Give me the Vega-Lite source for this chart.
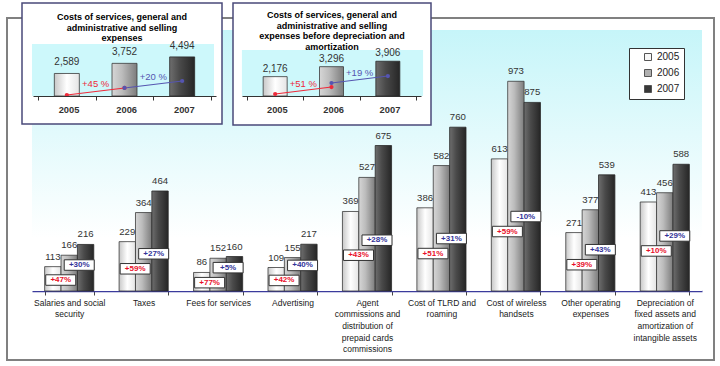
{
  "$schema": "https://vega.github.io/schema/vega-lite/v6.json",
  "width": 707,
  "height": 342,
  "autosize": "none",
  "padding": {"left": 7, "top": 18, "right": 6, "bottom": 6},
  "background": "#ffffff",
  "config": {
    "view": {"stroke": "#808080", "strokeWidth": 2},
    "font": "Liberation Sans",
    "text": {"font": "Liberation Sans"},
    "axis": {"labelFont": "Liberation Sans"},
    "legend": {"labelFont": "Liberation Sans"}
  },
  "resolve": {"scale": {"x": "independent", "y": "independent", "color": "independent"}},
  "layer": [
    {
      "data": {"values": [{"area": "plot"}]},
      "mark": {"type": "rect", "fill": {"gradient": "linear", "x1": 0, "y1": 0, "x2": 0, "y2": 1, "stops": [{"offset": 0, "color": "#c6f5f9"}, {"offset": 0.8, "color": "#ffffff"}]}},
      "encoding": {
        "x": {"datum": 0, "type": "quantitative", "scale": {"domain": [0, 1], "range": [25, 695], "nice": false, "zero": false}, "axis": null},
        "x2": {"datum": 1},
        "y": {"datum": 0, "type": "quantitative", "scale": {"domain": [0, 1], "range": [273, 12], "nice": false, "zero": false}, "axis": null},
        "y2": {"datum": 1}
      }
    },
    {
      "data": {"values": [
        {"cat": "Salaries and social|security", "2005": 113, "2006": 166, "2007": 216, "g1": "+47%", "g2": "+30%"},
        {"cat": "Taxes", "2005": 229, "2006": 364, "2007": 464, "g1": "+59%", "g2": "+27%"},
        {"cat": "Fees for services", "2005": 86, "2006": 152, "2007": 160, "g1": "+77%", "g2": "+5%"},
        {"cat": "Advertising", "2005": 109, "2006": 155, "2007": 217, "g1": "+42%", "g2": "+40%"},
        {"cat": "Agent|commissions and|distribution of|prepaid cards|commissions", "2005": 369, "2006": 527, "2007": 675, "g1": "+43%", "g2": "+28%"},
        {"cat": "Cost of TLRD and|roaming", "2005": 386, "2006": 582, "2007": 760, "g1": "+51%", "g2": "+31%"},
        {"cat": "Cost of wireless|handsets", "2005": 613, "2006": 973, "2007": 875, "g1": "+59%", "g2": "-10%"},
        {"cat": "Other operating|expenses", "2005": 271, "2006": 377, "2007": 539, "g1": "+39%", "g2": "+43%"},
        {"cat": "Depreciation of|fixed assets and|amortization of|intangible assets", "2005": 413, "2006": 456, "2007": 588, "g1": "+10%", "g2": "+29%"}
      ]},
      "transform": [{"fold": ["2005", "2006", "2007"], "as": ["year", "value"]}],
      "resolve": {"scale": {"y": "independent"}},
      "encoding": {
        "x": {"field": "cat", "type": "nominal", "sort": null,
          "scale": {"range": [25, 695], "paddingInner": 0.34, "paddingOuter": 0.17},
          "axis": {"orient": "bottom", "title": null, "labelAngle": 0, "labelExpr": "split(datum.label, '|')", "labelFontSize": 8.5, "labelColor": "#1a1a1a", "labelLineHeight": 11.7, "labelPadding": 3, "labelBaseline": "top", "labelOverlap": false, "labelLimit": 0, "domainColor": "#3b3b9c", "domainWidth": 1.5, "tickColor": "#444444", "tickSize": 4, "tickBand": "extent", "offset": -69, "grid": false}}
      },
      "layer": [
        {
          "transform": [{"filter": "datum.year == '2005'"}],
          "mark": {"type": "bar", "stroke": "#3a3a3a", "strokeWidth": 0.8, "fill": {"gradient": "linear", "x1": 0, "y1": 0, "x2": 1, "y2": 0, "stops": [{"offset": 0, "color": "#c8c8c8"}, {"offset": 0.5, "color": "#ffffff"}, {"offset": 1, "color": "#e4e4e4"}]}},
          "encoding": {
            "xOffset": {"field": "year", "type": "nominal", "scale": {"domain": ["2005", "2006", "2007"], "paddingInner": 0, "paddingOuter": 0}},
            "y": {"field": "value", "type": "quantitative", "scale": {"domain": [0, 1211], "range": [273, 12], "nice": false}, "axis": null}
          }
        },
        {
          "transform": [{"filter": "datum.year == '2006'"}],
          "mark": {"type": "bar", "stroke": "#3a3a3a", "strokeWidth": 0.8, "fill": {"gradient": "linear", "x1": 0, "y1": 0, "x2": 1, "y2": 0, "stops": [{"offset": 0, "color": "#d6d6d6"}, {"offset": 0.4, "color": "#bcbcbc"}, {"offset": 1, "color": "#7c7c7c"}]}},
          "encoding": {
            "xOffset": {"field": "year", "type": "nominal", "scale": {"domain": ["2005", "2006", "2007"], "paddingInner": 0, "paddingOuter": 0}},
            "y": {"field": "value", "type": "quantitative", "scale": {"domain": [0, 1211], "range": [273, 12], "nice": false}, "axis": null}
          }
        },
        {
          "transform": [{"filter": "datum.year == '2007'"}],
          "mark": {"type": "bar", "stroke": "#2a2a2a", "strokeWidth": 0.8, "fill": {"gradient": "linear", "x1": 0, "y1": 0, "x2": 1, "y2": 0, "stops": [{"offset": 0, "color": "#6e6e6e"}, {"offset": 0.4, "color": "#4a4a4a"}, {"offset": 1, "color": "#262626"}]}},
          "encoding": {
            "xOffset": {"field": "year", "type": "nominal", "scale": {"domain": ["2005", "2006", "2007"], "paddingInner": 0, "paddingOuter": 0}},
            "y": {"field": "value", "type": "quantitative", "scale": {"domain": [0, 1211], "range": [273, 12], "nice": false}, "axis": null}
          }
        },
        {
          "mark": {"type": "text", "baseline": "middle", "dy": -10, "fontSize": 9.6, "fill": "#333333"},
          "encoding": {
            "xOffset": {"field": "year", "type": "nominal", "scale": {"domain": ["2005", "2006", "2007"], "paddingInner": 0, "paddingOuter": 0}},
            "y": {"field": "value", "type": "quantitative", "scale": {"domain": [0, 1211], "range": [273, 12], "nice": false}, "axis": null},
            "text": {"field": "value", "type": "quantitative"}
          }
        },
        {
          "transform": [{"filter": "datum.year == '2005'"}],
          "mark": {"type": "point", "shape": "M-1,-0.35L1,-0.35L1,0.35L-1,0.35Z", "size": 900, "filled": true, "fill": "#ffffff", "stroke": "#333333", "strokeWidth": 1, "opacity": 1, "xOffset": -8.5},
          "encoding": {"y": {"field": "value", "type": "quantitative", "scale": {"domain": [0, 2691], "range": [273, 12], "nice": false}, "axis": null}}
        },
        {
          "transform": [{"filter": "datum.year == '2005'"}],
          "mark": {"type": "text", "fontSize": 8, "fontWeight": "bold", "fill": "#e8102a", "baseline": "middle", "xOffset": -8.5},
          "encoding": {"y": {"field": "value", "type": "quantitative", "scale": {"domain": [0, 2691], "range": [273, 12], "nice": false}, "axis": null}, "text": {"field": "g1", "type": "nominal"}}
        },
        {
          "transform": [{"filter": "datum.year == '2005'"}],
          "mark": {"type": "point", "shape": "M-1,-0.35L1,-0.35L1,0.35L-1,0.35Z", "size": 900, "filled": true, "fill": "#ffffff", "stroke": "#333333", "strokeWidth": 1, "opacity": 1, "xOffset": 10, "yOffset": -15},
          "encoding": {"y": {"field": "value", "type": "quantitative", "scale": {"domain": [0, 2691], "range": [273, 12], "nice": false}, "axis": null}}
        },
        {
          "transform": [{"filter": "datum.year == '2005'"}],
          "mark": {"type": "text", "fontSize": 8, "fontWeight": "bold", "fill": "#333399", "baseline": "middle", "xOffset": 10, "yOffset": -15},
          "encoding": {"y": {"field": "value", "type": "quantitative", "scale": {"domain": [0, 2691], "range": [273, 12], "nice": false}, "axis": null}, "text": {"field": "g2", "type": "nominal"}}
        }
      ]
    },
    {
      "data": {"values": [{"panel": "inset1"}]},
      "layer": [
        {
          "mark": {"type": "rect", "fill": "#ffffff", "stroke": "#4a4a7a", "strokeWidth": 1.5},
          "encoding": {
            "x": {"datum": 0, "type": "quantitative", "scale": {"domain": [0, 1], "range": [15, 215], "nice": false, "zero": false}, "axis": null},
            "x2": {"datum": 1},
            "y": {"datum": 0, "type": "quantitative", "scale": {"domain": [0, 1], "range": [106, -15], "nice": false, "zero": false}, "axis": null},
            "y2": {"datum": 1}
          }
        },
        {
          "mark": {"type": "rect", "fill": "#cdf8fb"},
          "encoding": {
            "x": {"datum": 0.05, "type": "quantitative", "scale": {"domain": [0, 1], "range": [15, 215], "nice": false, "zero": false}, "axis": null},
            "x2": {"datum": 0.96},
            "y": {"datum": 0.2314, "type": "quantitative", "scale": {"domain": [0, 1], "range": [106, -15], "nice": false, "zero": false}, "axis": null},
            "y2": {"datum": 0.661}
          }
        },
        {
          "mark": {"type": "text", "text": ["Costs of services, general and", "administrative and selling", "expenses"], "fontSize": 9, "fontWeight": "bold", "lineHeight": 10.5, "align": "center", "baseline": "middle", "fill": "#000000"},
          "encoding": {
            "x": {"datum": 0.5, "type": "quantitative", "scale": {"domain": [0, 1], "range": [15, 215], "nice": false, "zero": false}, "axis": null},
            "y": {"datum": 0.884, "type": "quantitative", "scale": {"domain": [0, 1], "range": [106, -15], "nice": false, "zero": false}, "axis": null}
          }
        }
      ]
    },
    {
      "data": {"values": [{"year": 2005, "v": 2589}, {"year": 2006, "v": 3752}, {"year": 2007, "v": 4494}]},
      "layer": [
        {
          "transform": [{"filter": "datum.year == 2005"}],
          "mark": {"type": "bar", "orient": "vertical", "width": 25, "stroke": "#3a3a3a", "strokeWidth": 0.8, "fill": {"gradient": "linear", "x1": 0, "y1": 0, "x2": 1, "y2": 0, "stops": [{"offset": 0, "color": "#c8c8c8"}, {"offset": 0.5, "color": "#ffffff"}, {"offset": 1, "color": "#e4e4e4"}]}},
          "encoding": {
            "x": {"field": "year", "type": "quantitative", "scale": {"domain": [2004.5, 2007.5], "range": [26, 209], "nice": false, "zero": false}, "axis": {"orient": "bottom", "zindex": 1, "title": null, "values": [2004.5, 2005.5, 2006.5, 2007.5], "labelExpr": "datum.value < 2007 ? '' + (datum.value + 0.5) : ''", "labelOffset": 30.5, "labelFlush": false, "labelOverlap": false, "labelFontSize": 9.3, "labelFontWeight": "bold", "labelColor": "#333333", "labelPadding": 5, "labelBaseline": "top", "labelAngle": 0, "domainColor": "#333333", "tickColor": "#333333", "tickSize": 4, "offset": -264, "grid": false}},
            "y": {"field": "v", "type": "quantitative", "scale": {"domain": [0, 5977], "range": [78, 26], "nice": false}, "axis": null}
          }
        },
        {
          "transform": [{"filter": "datum.year == 2006"}],
          "mark": {"type": "bar", "orient": "vertical", "width": 25, "stroke": "#3a3a3a", "strokeWidth": 0.8, "fill": {"gradient": "linear", "x1": 0, "y1": 0, "x2": 1, "y2": 0, "stops": [{"offset": 0, "color": "#d6d6d6"}, {"offset": 0.4, "color": "#bcbcbc"}, {"offset": 1, "color": "#7c7c7c"}]}},
          "encoding": {
            "x": {"field": "year", "type": "quantitative", "scale": {"domain": [2004.5, 2007.5], "range": [26, 209], "nice": false, "zero": false}, "axis": {"orient": "bottom", "zindex": 1, "title": null, "values": [2004.5, 2005.5, 2006.5, 2007.5], "labelExpr": "datum.value < 2007 ? '' + (datum.value + 0.5) : ''", "labelOffset": 30.5, "labelFlush": false, "labelOverlap": false, "labelFontSize": 9.3, "labelFontWeight": "bold", "labelColor": "#333333", "labelPadding": 5, "labelBaseline": "top", "labelAngle": 0, "domainColor": "#333333", "tickColor": "#333333", "tickSize": 4, "offset": -264, "grid": false}},
            "y": {"field": "v", "type": "quantitative", "scale": {"domain": [0, 5977], "range": [78, 26], "nice": false}, "axis": null}
          }
        },
        {
          "transform": [{"filter": "datum.year == 2007"}],
          "mark": {"type": "bar", "orient": "vertical", "width": 25, "stroke": "#2a2a2a", "strokeWidth": 0.8, "fill": {"gradient": "linear", "x1": 0, "y1": 0, "x2": 1, "y2": 0, "stops": [{"offset": 0, "color": "#6e6e6e"}, {"offset": 0.4, "color": "#4a4a4a"}, {"offset": 1, "color": "#262626"}]}},
          "encoding": {
            "x": {"field": "year", "type": "quantitative", "scale": {"domain": [2004.5, 2007.5], "range": [26, 209], "nice": false, "zero": false}, "axis": {"orient": "bottom", "zindex": 1, "title": null, "values": [2004.5, 2005.5, 2006.5, 2007.5], "labelExpr": "datum.value < 2007 ? '' + (datum.value + 0.5) : ''", "labelOffset": 30.5, "labelFlush": false, "labelOverlap": false, "labelFontSize": 9.3, "labelFontWeight": "bold", "labelColor": "#333333", "labelPadding": 5, "labelBaseline": "top", "labelAngle": 0, "domainColor": "#333333", "tickColor": "#333333", "tickSize": 4, "offset": -264, "grid": false}},
            "y": {"field": "v", "type": "quantitative", "scale": {"domain": [0, 5977], "range": [78, 26], "nice": false}, "axis": null}
          }
        },
        {
          "mark": {"type": "text", "baseline": "middle", "dy": -11, "fontSize": 10, "fill": "#333333"},
          "encoding": {
            "x": {"field": "year", "type": "quantitative", "scale": {"domain": [2004.5, 2007.5], "range": [26, 209], "nice": false, "zero": false}, "axis": {"orient": "bottom", "zindex": 1, "title": null, "values": [2004.5, 2005.5, 2006.5, 2007.5], "labelExpr": "datum.value < 2007 ? '' + (datum.value + 0.5) : ''", "labelOffset": 30.5, "labelFlush": false, "labelOverlap": false, "labelFontSize": 9.3, "labelFontWeight": "bold", "labelColor": "#333333", "labelPadding": 5, "labelBaseline": "top", "labelAngle": 0, "domainColor": "#333333", "tickColor": "#333333", "tickSize": 4, "offset": -264, "grid": false}},
            "y": {"field": "v", "type": "quantitative", "scale": {"domain": [0, 5977], "range": [78, 26], "nice": false}, "axis": null},
            "text": {"field": "v", "type": "quantitative", "format": ","}
          }
        },
        {
          "data": {"values": [
            {"year": 2005, "t": 115, "seg": "a", "g": "+45 %"},
            {"year": 2006, "t": 920, "seg": "a", "g": "+45 %"},
            {"year": 2006, "t": 920, "seg": "b", "g": "+20 %"},
            {"year": 2007, "t": 1724, "seg": "b", "g": "+20 %"}
          ]},
          "layer": [
            {
              "mark": {"type": "line", "strokeWidth": 1.2, "point": {"filled": true, "size": 18}},
              "encoding": {
                "x": {"field": "year", "type": "quantitative", "scale": {"domain": [2004.5, 2007.5], "range": [26, 209], "nice": false, "zero": false}, "axis": {"orient": "bottom", "zindex": 1, "title": null, "values": [2004.5, 2005.5, 2006.5, 2007.5], "labelExpr": "datum.value < 2007 ? '' + (datum.value + 0.5) : ''", "labelOffset": 30.5, "labelFlush": false, "labelOverlap": false, "labelFontSize": 9.3, "labelFontWeight": "bold", "labelColor": "#333333", "labelPadding": 5, "labelBaseline": "top", "labelAngle": 0, "domainColor": "#333333", "tickColor": "#333333", "tickSize": 4, "offset": -264, "grid": false}},
                "y": {"field": "t", "type": "quantitative", "scale": {"domain": [0, 5977], "range": [78, 26], "nice": false}, "axis": null},
                "color": {"field": "seg", "type": "nominal", "scale": {"domain": ["a", "b"], "range": ["#ee2a3a", "#5555b0"]}, "legend": null}
              }
            },
            {
              "transform": [{"aggregate": [{"op": "mean", "field": "year", "as": "year"}, {"op": "mean", "field": "t", "as": "t"}], "groupby": ["seg", "g"]}],
              "mark": {"type": "text", "dy": -7, "fontSize": 9.5, "baseline": "middle"},
              "encoding": {
                "x": {"field": "year", "type": "quantitative", "scale": {"domain": [2004.5, 2007.5], "range": [26, 209], "nice": false, "zero": false}, "axis": {"orient": "bottom", "zindex": 1, "title": null, "values": [2004.5, 2005.5, 2006.5, 2007.5], "labelExpr": "datum.value < 2007 ? '' + (datum.value + 0.5) : ''", "labelOffset": 30.5, "labelFlush": false, "labelOverlap": false, "labelFontSize": 9.3, "labelFontWeight": "bold", "labelColor": "#333333", "labelPadding": 5, "labelBaseline": "top", "labelAngle": 0, "domainColor": "#333333", "tickColor": "#333333", "tickSize": 4, "offset": -264, "grid": false}},
                "y": {"field": "t", "type": "quantitative", "scale": {"domain": [0, 5977], "range": [78, 26], "nice": false}, "axis": null},
                "text": {"field": "g", "type": "nominal"},
                "color": {"field": "seg", "type": "nominal", "scale": {"domain": ["a", "b"], "range": ["#ee2a3a", "#5555b0"]}, "legend": null}
              }
            }
          ]
        }
      ]
    },
    {
      "data": {"values": [{"panel": "inset2"}]},
      "layer": [
        {
          "mark": {"type": "rect", "fill": "#ffffff", "stroke": "#4a4a7a", "strokeWidth": 1.5},
          "encoding": {
            "x": {"datum": 0, "type": "quantitative", "scale": {"domain": [0, 1], "range": [226, 424], "nice": false, "zero": false}, "axis": null},
            "x2": {"datum": 1},
            "y": {"datum": 0, "type": "quantitative", "scale": {"domain": [0, 1], "range": [107, -15], "nice": false, "zero": false}, "axis": null},
            "y2": {"datum": 1}
          }
        },
        {
          "mark": {"type": "rect", "fill": "#cdf8fb"},
          "encoding": {
            "x": {"datum": 0.045, "type": "quantitative", "scale": {"domain": [0, 1], "range": [226, 424], "nice": false, "zero": false}, "axis": null},
            "x2": {"datum": 0.96},
            "y": {"datum": 0.238, "type": "quantitative", "scale": {"domain": [0, 1], "range": [107, -15], "nice": false, "zero": false}, "axis": null},
            "y2": {"datum": 0.615}
          }
        },
        {
          "mark": {"type": "text", "text": ["Costs of services, general and", "administrative and selling", "expenses before depreciation and", "amortization"], "fontSize": 9, "fontWeight": "bold", "lineHeight": 10.6, "align": "center", "baseline": "middle", "fill": "#000000"},
          "encoding": {
            "x": {"datum": 0.5, "type": "quantitative", "scale": {"domain": [0, 1], "range": [226, 424], "nice": false, "zero": false}, "axis": null},
            "y": {"datum": 0.9, "type": "quantitative", "scale": {"domain": [0, 1], "range": [107, -15], "nice": false, "zero": false}, "axis": null}
          }
        }
      ]
    },
    {
      "data": {"values": [{"year": 2005, "v": 2176}, {"year": 2006, "v": 3296}, {"year": 2007, "v": 3906}]},
      "layer": [
        {
          "transform": [{"filter": "datum.year == 2005"}],
          "mark": {"type": "bar", "orient": "vertical", "width": 24, "stroke": "#3a3a3a", "strokeWidth": 0.8, "fill": {"gradient": "linear", "x1": 0, "y1": 0, "x2": 1, "y2": 0, "stops": [{"offset": 0, "color": "#c8c8c8"}, {"offset": 0.5, "color": "#ffffff"}, {"offset": 1, "color": "#e4e4e4"}]}},
          "encoding": {
            "x": {"field": "year", "type": "quantitative", "scale": {"domain": [2004.5, 2007.5], "range": [235, 414], "nice": false, "zero": false}, "axis": {"orient": "bottom", "zindex": 1, "title": null, "values": [2004.5, 2005.5, 2006.5, 2007.5], "labelExpr": "datum.value < 2007 ? '' + (datum.value + 0.5) : ''", "labelOffset": 29.8, "labelFlush": false, "labelOverlap": false, "labelFontSize": 9.3, "labelFontWeight": "bold", "labelColor": "#333333", "labelPadding": 5, "labelBaseline": "top", "labelAngle": 0, "domainColor": "#333333", "tickColor": "#333333", "tickSize": 4, "offset": -264, "grid": false}},
            "y": {"field": "v", "type": "quantitative", "scale": {"domain": [0, 5170], "range": [78, 32], "nice": false}, "axis": null}
          }
        },
        {
          "transform": [{"filter": "datum.year == 2006"}],
          "mark": {"type": "bar", "orient": "vertical", "width": 24, "stroke": "#3a3a3a", "strokeWidth": 0.8, "fill": {"gradient": "linear", "x1": 0, "y1": 0, "x2": 1, "y2": 0, "stops": [{"offset": 0, "color": "#d6d6d6"}, {"offset": 0.4, "color": "#bcbcbc"}, {"offset": 1, "color": "#7c7c7c"}]}},
          "encoding": {
            "x": {"field": "year", "type": "quantitative", "scale": {"domain": [2004.5, 2007.5], "range": [235, 414], "nice": false, "zero": false}, "axis": {"orient": "bottom", "zindex": 1, "title": null, "values": [2004.5, 2005.5, 2006.5, 2007.5], "labelExpr": "datum.value < 2007 ? '' + (datum.value + 0.5) : ''", "labelOffset": 29.8, "labelFlush": false, "labelOverlap": false, "labelFontSize": 9.3, "labelFontWeight": "bold", "labelColor": "#333333", "labelPadding": 5, "labelBaseline": "top", "labelAngle": 0, "domainColor": "#333333", "tickColor": "#333333", "tickSize": 4, "offset": -264, "grid": false}},
            "y": {"field": "v", "type": "quantitative", "scale": {"domain": [0, 5170], "range": [78, 32], "nice": false}, "axis": null}
          }
        },
        {
          "transform": [{"filter": "datum.year == 2007"}],
          "mark": {"type": "bar", "orient": "vertical", "width": 24, "stroke": "#2a2a2a", "strokeWidth": 0.8, "fill": {"gradient": "linear", "x1": 0, "y1": 0, "x2": 1, "y2": 0, "stops": [{"offset": 0, "color": "#6e6e6e"}, {"offset": 0.4, "color": "#4a4a4a"}, {"offset": 1, "color": "#262626"}]}},
          "encoding": {
            "x": {"field": "year", "type": "quantitative", "scale": {"domain": [2004.5, 2007.5], "range": [235, 414], "nice": false, "zero": false}, "axis": {"orient": "bottom", "zindex": 1, "title": null, "values": [2004.5, 2005.5, 2006.5, 2007.5], "labelExpr": "datum.value < 2007 ? '' + (datum.value + 0.5) : ''", "labelOffset": 29.8, "labelFlush": false, "labelOverlap": false, "labelFontSize": 9.3, "labelFontWeight": "bold", "labelColor": "#333333", "labelPadding": 5, "labelBaseline": "top", "labelAngle": 0, "domainColor": "#333333", "tickColor": "#333333", "tickSize": 4, "offset": -264, "grid": false}},
            "y": {"field": "v", "type": "quantitative", "scale": {"domain": [0, 5170], "range": [78, 32], "nice": false}, "axis": null}
          }
        },
        {
          "mark": {"type": "text", "baseline": "middle", "dy": -8, "fontSize": 10, "fill": "#333333"},
          "encoding": {
            "x": {"field": "year", "type": "quantitative", "scale": {"domain": [2004.5, 2007.5], "range": [235, 414], "nice": false, "zero": false}, "axis": {"orient": "bottom", "zindex": 1, "title": null, "values": [2004.5, 2005.5, 2006.5, 2007.5], "labelExpr": "datum.value < 2007 ? '' + (datum.value + 0.5) : ''", "labelOffset": 29.8, "labelFlush": false, "labelOverlap": false, "labelFontSize": 9.3, "labelFontWeight": "bold", "labelColor": "#333333", "labelPadding": 5, "labelBaseline": "top", "labelAngle": 0, "domainColor": "#333333", "tickColor": "#333333", "tickSize": 4, "offset": -264, "grid": false}},
            "y": {"field": "v", "type": "quantitative", "scale": {"domain": [0, 5170], "range": [78, 32], "nice": false}, "axis": null},
            "text": {"field": "v", "type": "quantitative", "format": ","}
          }
        },
        {
          "data": {"values": [
            {"year": 2005, "t": 225, "seg": "a", "g": "+51 %"},
            {"year": 2006, "t": 1011, "seg": "a", "g": "+51 %"},
            {"year": 2006, "t": 1461, "seg": "b", "g": "+19 %"},
            {"year": 2007, "t": 2247, "seg": "b", "g": "+19 %"}
          ]},
          "layer": [
            {
              "mark": {"type": "line", "strokeWidth": 1.2, "point": {"filled": true, "size": 18}},
              "encoding": {
                "x": {"field": "year", "type": "quantitative", "scale": {"domain": [2004.5, 2007.5], "range": [235, 414], "nice": false, "zero": false}, "axis": {"orient": "bottom", "zindex": 1, "title": null, "values": [2004.5, 2005.5, 2006.5, 2007.5], "labelExpr": "datum.value < 2007 ? '' + (datum.value + 0.5) : ''", "labelOffset": 29.8, "labelFlush": false, "labelOverlap": false, "labelFontSize": 9.3, "labelFontWeight": "bold", "labelColor": "#333333", "labelPadding": 5, "labelBaseline": "top", "labelAngle": 0, "domainColor": "#333333", "tickColor": "#333333", "tickSize": 4, "offset": -264, "grid": false}},
                "y": {"field": "t", "type": "quantitative", "scale": {"domain": [0, 5170], "range": [78, 32], "nice": false}, "axis": null},
                "color": {"field": "seg", "type": "nominal", "scale": {"domain": ["a", "b"], "range": ["#ee2a3a", "#5555b0"]}, "legend": null}
              }
            },
            {
              "transform": [{"aggregate": [{"op": "mean", "field": "year", "as": "year"}, {"op": "mean", "field": "t", "as": "t"}], "groupby": ["seg", "g"]}],
              "mark": {"type": "text", "dy": -7, "fontSize": 9.5, "baseline": "middle"},
              "encoding": {
                "x": {"field": "year", "type": "quantitative", "scale": {"domain": [2004.5, 2007.5], "range": [235, 414], "nice": false, "zero": false}, "axis": {"orient": "bottom", "zindex": 1, "title": null, "values": [2004.5, 2005.5, 2006.5, 2007.5], "labelExpr": "datum.value < 2007 ? '' + (datum.value + 0.5) : ''", "labelOffset": 29.8, "labelFlush": false, "labelOverlap": false, "labelFontSize": 9.3, "labelFontWeight": "bold", "labelColor": "#333333", "labelPadding": 5, "labelBaseline": "top", "labelAngle": 0, "domainColor": "#333333", "tickColor": "#333333", "tickSize": 4, "offset": -264, "grid": false}},
                "y": {"field": "t", "type": "quantitative", "scale": {"domain": [0, 5170], "range": [78, 32], "nice": false}, "axis": null},
                "text": {"field": "g", "type": "nominal"},
                "color": {"field": "seg", "type": "nominal", "scale": {"domain": ["a", "b"], "range": ["#ee2a3a", "#5555b0"]}, "legend": null}
              }
            }
          ]
        }
      ]
    },
    {
      "data": {"values": [{"year": "2005"}, {"year": "2006"}, {"year": "2007"}]},
      "mark": {"type": "point", "filled": true, "opacity": 0},
      "encoding": {
        "color": {"field": "year", "type": "nominal",
          "scale": {"domain": ["2005", "2006", "2007"], "range": ["#f7f7f7", "#b0b0b0", "#383838"]},
          "legend": {"orient": "none", "legendX": 622, "legendY": 30, "title": null, "direction": "vertical", "symbolType": "square", "symbolSize": 49, "symbolStrokeColor": "#555555", "symbolStrokeWidth": 1, "symbolOpacity": 1, "labelFontSize": 10, "labelColor": "#222222", "strokeColor": "#333333", "fillColor": "#ffffff", "padding": 4, "symbolOffset": 10, "labelOffset": 4, "rowPadding": 4}}
      }
    }
  ]
}
